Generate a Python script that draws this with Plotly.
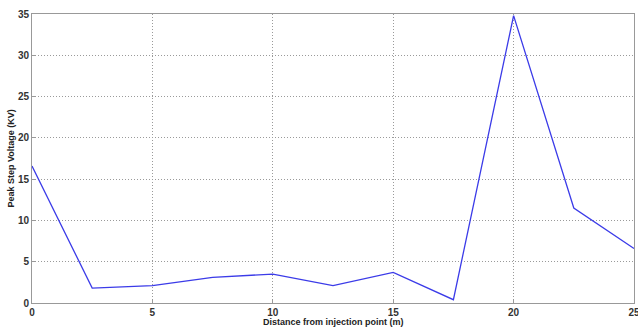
import plotly.graph_objects as go

distance = [0, 2.5, 5, 7.5, 10, 12.5, 15, 17.5, 20, 22.5, 25]
voltage = [16.6, 1.8, 2.1, 3.1, 3.5, 2.1, 3.7, 0.4, 34.8, 11.5, 6.6]
x_ticks = [0, 5, 10, 15, 20, 25]
y_ticks = [0, 5, 10, 15, 20, 25, 30, 35]

fig = go.Figure()
fig.add_trace(go.Scatter(x=distance, y=voltage, mode="lines",
                         line=dict(color="#3b3be8", width=1.3), showlegend=False))

axis_common = dict(showline=True, linecolor="#999999", linewidth=1, mirror=True,
                   showgrid=True, gridcolor="#9a9a9a", griddash="1px,2px", gridwidth=1,
                   zeroline=False, ticks="inside", ticklen=4, tickcolor="#999999",
                   automargin=False, ticklabeloverflow="allow",
                   tickfont=dict(family="Liberation Sans", size=10, color="#333333", weight="bold"))

fig.update_xaxes(range=[0, 25], tickvals=x_ticks, ticklabelstandoff=0, **axis_common)
fig.update_yaxes(range=[0, 35], tickvals=y_ticks, ticklabelstandoff=0, **axis_common)

fig.update_layout(width=638, height=329, margin=dict(l=32, r=4, t=14, b=26),
                  plot_bgcolor="white", paper_bgcolor="white")

fig.add_annotation(text="<b>Distance from injection point (m)</b>", xref="paper", yref="paper",
                   x=0.5, y=0, yshift=-19, xanchor="center", yanchor="middle", showarrow=False,
                   font=dict(family="Liberation Sans", size=9, color="#222222"))
fig.add_annotation(text="<b>Peak Step Voltage (KV)</b>", xref="paper", yref="paper",
                   x=0, y=0.5, xshift=-22, xanchor="center", yanchor="middle", showarrow=False,
                   textangle=-90, font=dict(family="Liberation Sans", size=9, color="#222222"))
fig.write_html("out.html", config={"displayModeBar": False},
               post_script="document.body.style.margin='0';document.body.style.overflow='hidden';")
